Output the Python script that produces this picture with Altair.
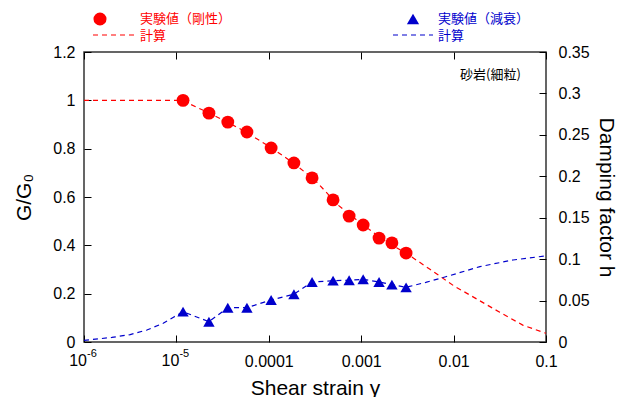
import altair as alt
import pandas as pd

strain_exp = [1.18e-5, 2.25e-5, 3.6e-5, 5.8e-5, 1.06e-4, 1.87e-4, 2.94e-4,
              4.96e-4, 7.4e-4, 1.05e-3, 1.56e-3, 2.15e-3, 3.06e-3]
g_exp = [1.0, 0.947, 0.910, 0.869, 0.803, 0.741, 0.679,
         0.588, 0.521, 0.484, 0.430, 0.410, 0.368]
h_exp = [0.0366, 0.0245, 0.0414, 0.0414, 0.0507, 0.0576, 0.0724,
         0.0740, 0.0745, 0.0757, 0.0724, 0.0692, 0.0660]

# ---- calculated curves ----
strain_calc_g = [1e-6, 3.16e-6, 1e-5, 1.18e-5, 2.0e-5, 3.16e-5, 5.6e-5, 1e-4,
                 1.78e-4, 3.16e-4, 5.6e-4, 1e-3, 1.78e-3, 3.16e-3, 5.6e-3,
                 0.01, 0.0178, 0.0316, 0.056, 0.1]
g_calc = [1.0, 1.0, 1.0, 0.998, 0.957, 0.92, 0.87, 0.81,
          0.745, 0.67, 0.567, 0.49, 0.42, 0.364, 0.30,
          0.233, 0.178, 0.123, 0.07, 0.036]

strain_calc_h = [1e-6, 2.0e-6, 3.16e-6, 4.8e-6, 7.2e-6, 9.3e-6,
                 1.18e-5, 2.25e-5, 3.6e-5, 5.8e-5, 1.06e-4, 1.87e-4, 2.94e-4,
                 4.96e-4, 7.4e-4, 1.05e-3, 1.56e-3, 2.15e-3, 3.06e-3,
                 5.0e-3, 8.4e-3, 0.0193, 0.044, 0.1]
h_calc = [0.002, 0.0055, 0.009, 0.0145, 0.0226, 0.030,
          0.0366, 0.0245, 0.0414, 0.0414, 0.0507, 0.0576, 0.0724,
          0.0740, 0.0745, 0.0757, 0.0724, 0.0692, 0.0660,
          0.072, 0.079, 0.091, 0.099, 0.104]

# ---- ticks and text ----
x_ticks = [1e-6, 1e-5, 1e-4, 1e-3, 1e-2, 1e-1]
x_tick_labels = ["", "", "0.0001", "0.001", "0.01", "0.1"]
x_pow_ticks = [1e-6, 1e-5]
x_pow_base = ["10", "10"]
x_pow_exp = ["-6", "-5"]
g_ticks = [0, 0.2, 0.4, 0.6, 0.8, 1.0, 1.2]
h_ticks = [0, 0.05, 0.1, 0.15, 0.2, 0.25, 0.3, 0.35]
legend_labels = ["実験値（剛性）", "計算", "実験値（減衰）", "計算"]
annotation = "砂岩(細粒)"

RED = "#FF0000"
BLUE = "#0000CC"
FONT = "Liberation Sans"
JP = "Noto Sans CJK JP"
W, H = 462, 290

exp_df = pd.DataFrame({"strain": strain_exp, "G": g_exp, "h": h_exp})
calc_g_df = pd.DataFrame({"strain": strain_calc_g, "G": g_calc})
calc_h_df = pd.DataFrame({"strain": strain_calc_h, "h": h_calc})
pow_df = pd.DataFrame({"strain": x_pow_ticks, "base": x_pow_base, "ex": x_pow_exp})
one = pd.DataFrame({"a": [0]})

label_expr = "[" + ",".join("'%s'" % s for s in x_tick_labels) + "][round(log(datum.value)/LN10)+6]"

xs = alt.Scale(type="log", domain=[1e-6, 0.1], nice=False)
gs = alt.Scale(domain=[0, 1.2], nice=False)
hs = alt.Scale(domain=[0, 0.35], nice=False)

common = dict(grid=False, domain=False, tickSize=7, offset=-7, tickColor="#000",
              tickWidth=1, labelFont=FONT, labelFontSize=16, labelColor="#000",
              titleFont=FONT, titleFontSize=21, titleFontWeight="normal", titleColor="#000")

bottom_axis = alt.Axis(orient="bottom", values=x_ticks, labelExpr=label_expr, labelFlush=False,
                       title="Shear strain γ", labelPadding=11, titlePadding=8, **common)
top_axis = alt.Axis(orient="top", values=x_ticks, labels=False, title=None, grid=False,
                    domain=False, tickSize=7, offset=-7, tickColor="#000")
left_axis = alt.Axis(orient="left", values=g_ticks, format="~g", title="G/G₀",
                     labelPadding=9, titlePadding=18, **common)
right_axis = alt.Axis(orient="right", values=h_ticks, format="~g", title="Damping factor h",
                      labelPadding=12, titlePadding=6, **common)

red_line = alt.Chart(calc_g_df).mark_line(color=RED, strokeDash=[5, 4], strokeWidth=1.2).encode(
    x=alt.X("strain:Q", scale=xs, axis=bottom_axis),
    y=alt.Y("G:Q", scale=gs, axis=left_axis))
red_pts = alt.Chart(exp_df).mark_point(shape="circle", filled=True, size=165, color=RED, opacity=1).encode(
    x=alt.X("strain:Q", scale=xs, axis=bottom_axis),
    y=alt.Y("G:Q", scale=gs, axis=left_axis))
pow_base = alt.Chart(pow_df).mark_text(align="right", baseline="middle", font=FONT, fontSize=16,
                                       color="#000", dx=3).encode(
    x=alt.X("strain:Q", scale=xs, axis=bottom_axis),
    y=alt.value(H + 19), text="base:N")
pow_exp = alt.Chart(pow_df).mark_text(align="left", baseline="middle", font=FONT, fontSize=11,
                                      color="#000", dx=3).encode(
    x=alt.X("strain:Q", scale=xs, axis=bottom_axis),
    y=alt.value(H + 12), text="ex:N")

blue_line = alt.Chart(calc_h_df).mark_line(color=BLUE, strokeDash=[5, 4], strokeWidth=1.2).encode(
    x=alt.X("strain:Q", scale=xs, axis=top_axis),
    y=alt.Y("h:Q", scale=hs, axis=right_axis))
blue_pts = alt.Chart(exp_df).mark_point(shape="triangle-up", filled=True, size=130, color=BLUE, opacity=1).encode(
    x=alt.X("strain:Q", scale=xs, axis=top_axis),
    y=alt.Y("h:Q", scale=hs, axis=right_axis))

# legend (drawn manually above the plot)
leg_red_sym = alt.Chart(one).mark_point(shape="circle", filled=True, size=170, color=RED, opacity=1).encode(
    x=alt.value(16), y=alt.value(-33))
leg_red_txt = alt.Chart(one).mark_text(align="left", baseline="middle", font=JP, fontSize=13, color=RED).encode(
    x=alt.value(56), y=alt.value(-33), text=alt.value(legend_labels[0]))
leg_red_line = alt.Chart(one).mark_rule(color=RED, strokeDash=[5, 4], strokeWidth=1.2).encode(
    x=alt.value(9), x2=alt.value(51), y=alt.value(-17))
leg_red_txt2 = alt.Chart(one).mark_text(align="left", baseline="middle", font=JP, fontSize=13, color=RED).encode(
    x=alt.value(56), y=alt.value(-16), text=alt.value(legend_labels[1]))

leg_blue_sym = alt.Chart(one).mark_point(shape="triangle-up", filled=True, size=150, color=BLUE, opacity=1).encode(
    x=alt.value(329), y=alt.value(-33))
leg_blue_txt = alt.Chart(one).mark_text(align="left", baseline="middle", font=JP, fontSize=13, color=BLUE).encode(
    x=alt.value(354), y=alt.value(-33), text=alt.value(legend_labels[2]))
leg_blue_line = alt.Chart(one).mark_rule(color=BLUE, strokeDash=[5, 4], strokeWidth=1.2).encode(
    x=alt.value(309), x2=alt.value(349), y=alt.value(-17))
leg_blue_txt2 = alt.Chart(one).mark_text(align="left", baseline="middle", font=JP, fontSize=13, color=BLUE).encode(
    x=alt.value(354), y=alt.value(-16), text=alt.value(legend_labels[3]))

note = alt.Chart(one).mark_text(align="left", baseline="middle", font=JP, fontSize=13, color="#000").encode(
    x=alt.value(376), y=alt.value(23), text=alt.value(annotation))

chart = alt.layer(
    alt.layer(red_line, red_pts, pow_base, pow_exp),
    alt.layer(blue_line, blue_pts),
    leg_red_sym, leg_red_txt, leg_red_line, leg_red_txt2,
    leg_blue_sym, leg_blue_txt, leg_blue_line, leg_blue_txt2, note,
).resolve_scale(y="independent").resolve_axis(x="independent", y="independent").properties(
    width=W, height=H,
    autosize=alt.AutoSizeParams(type="none"),
    padding={"left": 76, "top": 44, "right": 75, "bottom": 55},
).configure_view(stroke="#333", strokeWidth=1.5)

chart.save("out.html", embed_options={"renderer": "svg", "actions": False})
